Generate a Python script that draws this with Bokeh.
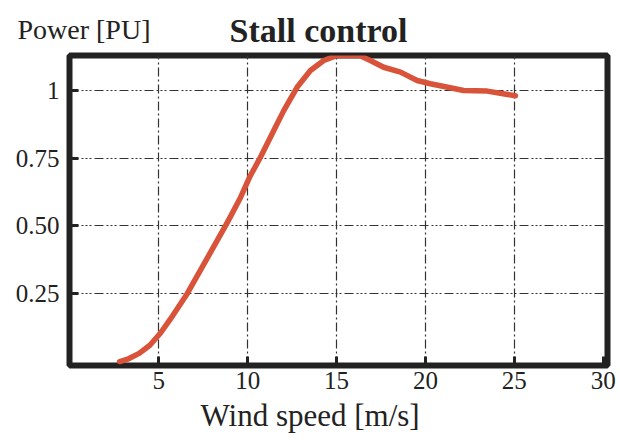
from bokeh.plotting import figure
from bokeh.models import Range1d, FixedTicker, Title
from bokeh.layouts import column
from bokeh.core.properties import value
from bokeh.embed import file_html
from bokeh.resources import INLINE

# ---- data ----
wind_speed = [2.8, 3.3, 3.9, 4.5, 5.1, 5.66, 6.6, 8.75, 9.04, 9.6, 10.15, 10.72, 11.47,
              12.03, 12.78, 13.53, 14.28, 15.0, 16.3, 16.9, 17.65, 18.6, 19.53, 20.28,
              22.15, 23.47, 25.06]
power_pu = [0.0, 0.01, 0.03, 0.06, 0.105, 0.157, 0.25, 0.50, 0.535, 0.605, 0.685, 0.753, 0.852,
            0.925, 1.011, 1.073, 1.11, 1.128, 1.128, 1.11, 1.085, 1.067, 1.036, 1.024,
            0.999, 0.997, 0.98]
x_ticks = [5, 10, 15, 20, 25, 30]
y_ticks = [0.25, 0.5, 0.75, 1.0]
y_tick_labels = {0.25: "0.25", 0.5: "0.50", 0.75: "0.75", 1: "1"}

title_text = "Stall control"
y_label_text = "Power [PU]"
x_label_text = "Wind speed [m/s]"

FONT = "Liberation Serif"
INK = "#222222"
CURVE = "#d9533a"

W = 620
TOP_H = 52
H = 442 - TOP_H
BL, BR, BT, BB = 69, 13, 3, 77
xs, xe = -0.02, 30.24
ys, ye = -0.0147, 1.1283

# ---- header strip: title and y-axis caption ----
top = figure(width=W, height=TOP_H, output_backend="svg", toolbar_location=None,
             x_range=Range1d(0, W), y_range=Range1d(TOP_H, 0),
             min_border=0, min_border_left=0, min_border_right=0,
             min_border_top=0, min_border_bottom=0)
top.axis.visible = False
top.grid.visible = False
top.outline_line_color = None
top.background_fill_color = "white"
top.border_fill_color = "white"
top.text(x=[17], y=[28.5], text=[y_label_text], text_font=value(FONT),
         text_font_size="28px", text_color=INK, text_baseline="alphabetic", text_align="left")
top.text(x=[318], y=[30], text=[title_text], text_font=value(FONT),
         text_font_size="34px", text_font_style="bold", text_color=INK,
         text_baseline="alphabetic", text_align="center")

# ---- main chart ----
p = figure(width=W, height=H, output_backend="svg", toolbar_location=None,
           x_range=Range1d(xs, xe), y_range=Range1d(ys, ye),
           min_border_left=BL, min_border_right=BR, min_border_top=BT, min_border_bottom=BB)

top.frame_align = False
p.frame_align = False

p.background_fill_color = "white"
p.border_fill_color = "white"
p.outline_line_color = INK
p.outline_line_width = 6
p.outline_line_alpha = 1.0

for ax in (p.xaxis[0], p.yaxis[0]):
    ax.axis_line_color = None
    ax.major_tick_in = 9
    ax.major_tick_out = 0
    ax.major_tick_line_width = 3
    ax.major_tick_line_color = INK
    ax.minor_tick_line_color = None
    ax.major_label_text_font = FONT
    ax.major_label_text_font_size = "25px"
    ax.major_label_text_color = INK

p.xaxis.ticker = FixedTicker(ticks=x_ticks)
p.xaxis.major_label_standoff = 6
p.yaxis.ticker = FixedTicker(ticks=y_ticks)
p.yaxis.major_label_overrides = y_tick_labels
p.yaxis.major_label_standoff = 10

p.xgrid.ticker = FixedTicker(ticks=x_ticks[:-1])
p.xgrid.grid_line_color = "#333333"
p.xgrid.grid_line_width = 1.2
p.xgrid.grid_line_dash = "9 3 2 3"
p.ygrid.ticker = FixedTicker(ticks=y_ticks)
p.ygrid.grid_line_color = "#333333"
p.ygrid.grid_line_width = 1.2
p.ygrid.grid_line_dash = "9 3 2 2 2 2 2 3"

p.line(wind_speed, power_pu, line_color=CURVE, line_width=5.5, line_join="round", line_cap="round")

p.add_layout(Title(text=x_label_text, align="left", offset=200 - BL, standoff=9,
                   text_font=FONT, text_font_size="31px", text_font_style="normal",
                   text_color=INK), "below")

layout = column(top, p, spacing=0)
open("out.html", "w").write(file_html(layout, INLINE))
